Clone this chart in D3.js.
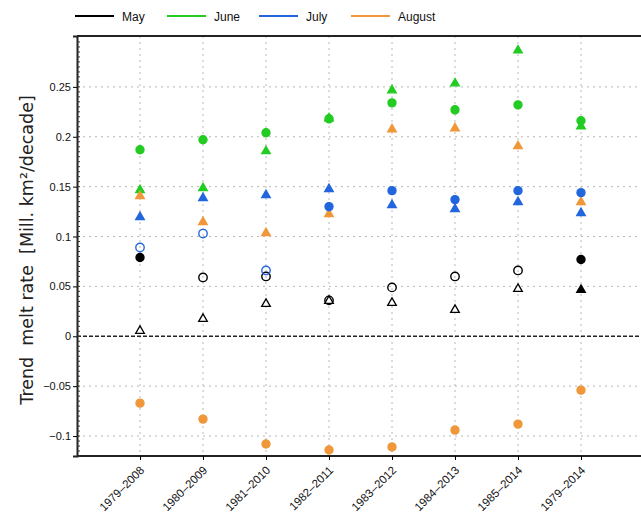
<!DOCTYPE html>
<html><head><meta charset="utf-8">
<script src="https://cdn.jsdelivr.net/npm/d3@7"></script>
<style>body{margin:0;background:#fff;} svg{display:block;font-family:"Liberation Sans",Arial,sans-serif;}</style>
</head><body><svg id="c" width="641" height="522"></svg>
<script>
const categories = ["1979-2008","1980-2009","1981-2010","1982-2011","1983-2012","1984-2013","1985-2014","1979-2014"];
const months = ["May","June","July","August"];
const monthColors = ["#000000","#22cc22","#2266dd","#f0973a"];
// circle series values
const mayCircle  = [0.079,0.059,0.060,0.036,0.049,0.060,0.066,0.077];
const juneCircle = [0.187,0.197,0.204,0.218,0.234,0.227,0.232,0.216];
const julyCircle = [0.089,0.103,0.066,0.130,0.146,0.137,0.146,0.144];
const augCircle  = [-0.067,-0.083,-0.108,-0.114,-0.111,-0.094,-0.088,-0.054];
// triangle series values
const mayTri  = [0.006,0.018,0.033,0.036,0.034,0.027,0.048,0.047];
const juneTri = [0.147,0.149,0.186,0.219,0.247,0.254,0.287,0.211];
const julyTri = [0.120,0.139,0.142,0.148,0.132,0.128,0.135,0.124];
const augTri  = [0.141,0.115,0.104,0.123,0.208,0.209,0.191,0.135];
// filled (1) or open (0)
const mayCircleFill  = [1,0,0,0,0,0,0,1];
const juneCircleFill = [1,1,1,1,1,1,1,1];
const julyCircleFill = [0,0,0,1,1,1,1,1];
const augCircleFill  = [1,1,1,1,1,1,1,1];
const mayTriFill  = [0,0,0,0,0,0,0,1];
const juneTriFill = [1,1,1,1,1,1,1,1];
const julyTriFill = [1,1,1,1,1,1,1,1];
const augTriFill  = [1,1,1,1,1,1,1,1];
const yTicks = [-0.1,-0.05,0,0.05,0.1,0.15,0.2,0.25];
const yTickLabels = ["-0.1","-0.05","0","0.05","0.1","0.15","0.2","0.25"];

const svg = d3.select("#c");
const x = d3.scaleLinear().domain([0,9]).range([77,644]);
const y = d3.scaleLinear().domain([-0.12,0.301]).range([456,36]);

// grid
svg.append("g").selectAll("line").data(yTicks.filter(d=>d!==0)).join("line")
  .attr("x1",77).attr("x2",641).attr("y1",d=>y(d)).attr("y2",d=>y(d))
  .attr("stroke","#b8b8b8").attr("stroke-width",1).attr("stroke-dasharray","2,4");
svg.append("g").selectAll("line").data(categories).join("line")
  .attr("x1",(d,i)=>x(i+1)).attr("x2",(d,i)=>x(i+1)).attr("y1",36).attr("y2",456)
  .attr("stroke","#b8b8b8").attr("stroke-width",1).attr("stroke-dasharray","2,4");
// zero line
svg.append("line").attr("x1",77).attr("x2",641).attr("y1",y(0)).attr("y2",y(0))
  .attr("stroke","#222").attr("stroke-width",1.5).attr("stroke-dasharray","4,2");

// frame
svg.append("line").attr("x1",77).attr("x2",641).attr("y1",36).attr("y2",36).attr("stroke","#222").attr("stroke-width",2);
svg.append("line").attr("x1",77).attr("x2",641).attr("y1",456).attr("y2",456).attr("stroke","#222").attr("stroke-width",2);

// y axis
const yAxis = d3.axisLeft(y).tickValues(yTicks).tickFormat((d,i)=>yTickLabels[i].replace("-","\u2212")).tickSize(4).tickPadding(2);
const gy = svg.append("g").attr("transform","translate(77,0)").call(yAxis);
gy.select(".domain").attr("stroke","#222").attr("stroke-width",2);
gy.selectAll("text").attr("font-size",11).attr("fill","#111");
// minor ticks
svg.append("g").selectAll("line").data(d3.range(-0.12,0.30,0.005)).join("line")
  .attr("x1",77).attr("x2",80).attr("y1",d=>y(d)).attr("y2",d=>y(d)).attr("stroke","#333").attr("stroke-width",1);

// x axis
const xAxis = d3.axisBottom(x).tickValues(d3.range(1,9)).tickFormat("").tickSize(4);
const gx = svg.append("g").attr("transform","translate(0,456)").call(xAxis);
gx.select(".domain").remove();
svg.append("g").selectAll("text").data(categories).join("text")
  .attr("transform",(d,i)=>`translate(${x(i+1)+5},${471}) rotate(-45)`)
  .attr("text-anchor","end").attr("font-size",11.5).attr("fill","#111").text(d=>d.replace("-","\u2013"));

// markers
const circleSeries = [[mayCircle,mayCircleFill],[juneCircle,juneCircleFill],[julyCircle,julyCircleFill],[augCircle,augCircleFill]];
const triSeries = [[mayTri,mayTriFill],[juneTri,juneTriFill],[julyTri,julyTriFill],[augTri,augTriFill]];
const tri = d3.symbol().type(d3.symbolTriangle).size(32);
triSeries.forEach(([vals,fills],m)=>{
  svg.append("g").selectAll("path").data(vals).join("path")
    .attr("d",tri).attr("transform",(d,i)=>`translate(${x(i+1)},${y(d)+0.5})`)
    .attr("fill",(d,i)=>fills[i]?monthColors[m]:"#fff")
    .attr("stroke",monthColors[m]).attr("stroke-width",1.3);
});
circleSeries.forEach(([vals,fills],m)=>{
  svg.append("g").selectAll("circle").data(vals).join("circle")
    .attr("cx",(d,i)=>x(i+1)).attr("cy",d=>y(d)).attr("r",(d,i)=>fills[i]?4:4.2)
    .attr("fill",(d,i)=>fills[i]?monthColors[m]:"none")
    .attr("stroke",monthColors[m]).attr("stroke-width",1.4);
});

// legend
const legX = [75,167,259,351];
const lg = svg.append("g").selectAll("g").data(months).join("g").attr("transform",(d,i)=>`translate(${legX[i]},16)`);
lg.append("line").attr("x1",0).attr("x2",39).attr("y1",0).attr("y2",0).attr("stroke",(d,i)=>monthColors[i]).attr("stroke-width",2);
lg.append("text").attr("x",47).attr("y",4.5).attr("font-size",12).attr("fill","#111").text(d=>d);

// y title
svg.append("text").attr("transform","translate(33,250) rotate(-90)").attr("text-anchor","middle")
  .attr("font-family","DejaVu Sans").attr("font-size",17.5).attr("fill","#222").attr("xml:space","preserve")
  .text("Trend  melt rate  [Mill. km\u00b2/decade]");
</script></body></html>
